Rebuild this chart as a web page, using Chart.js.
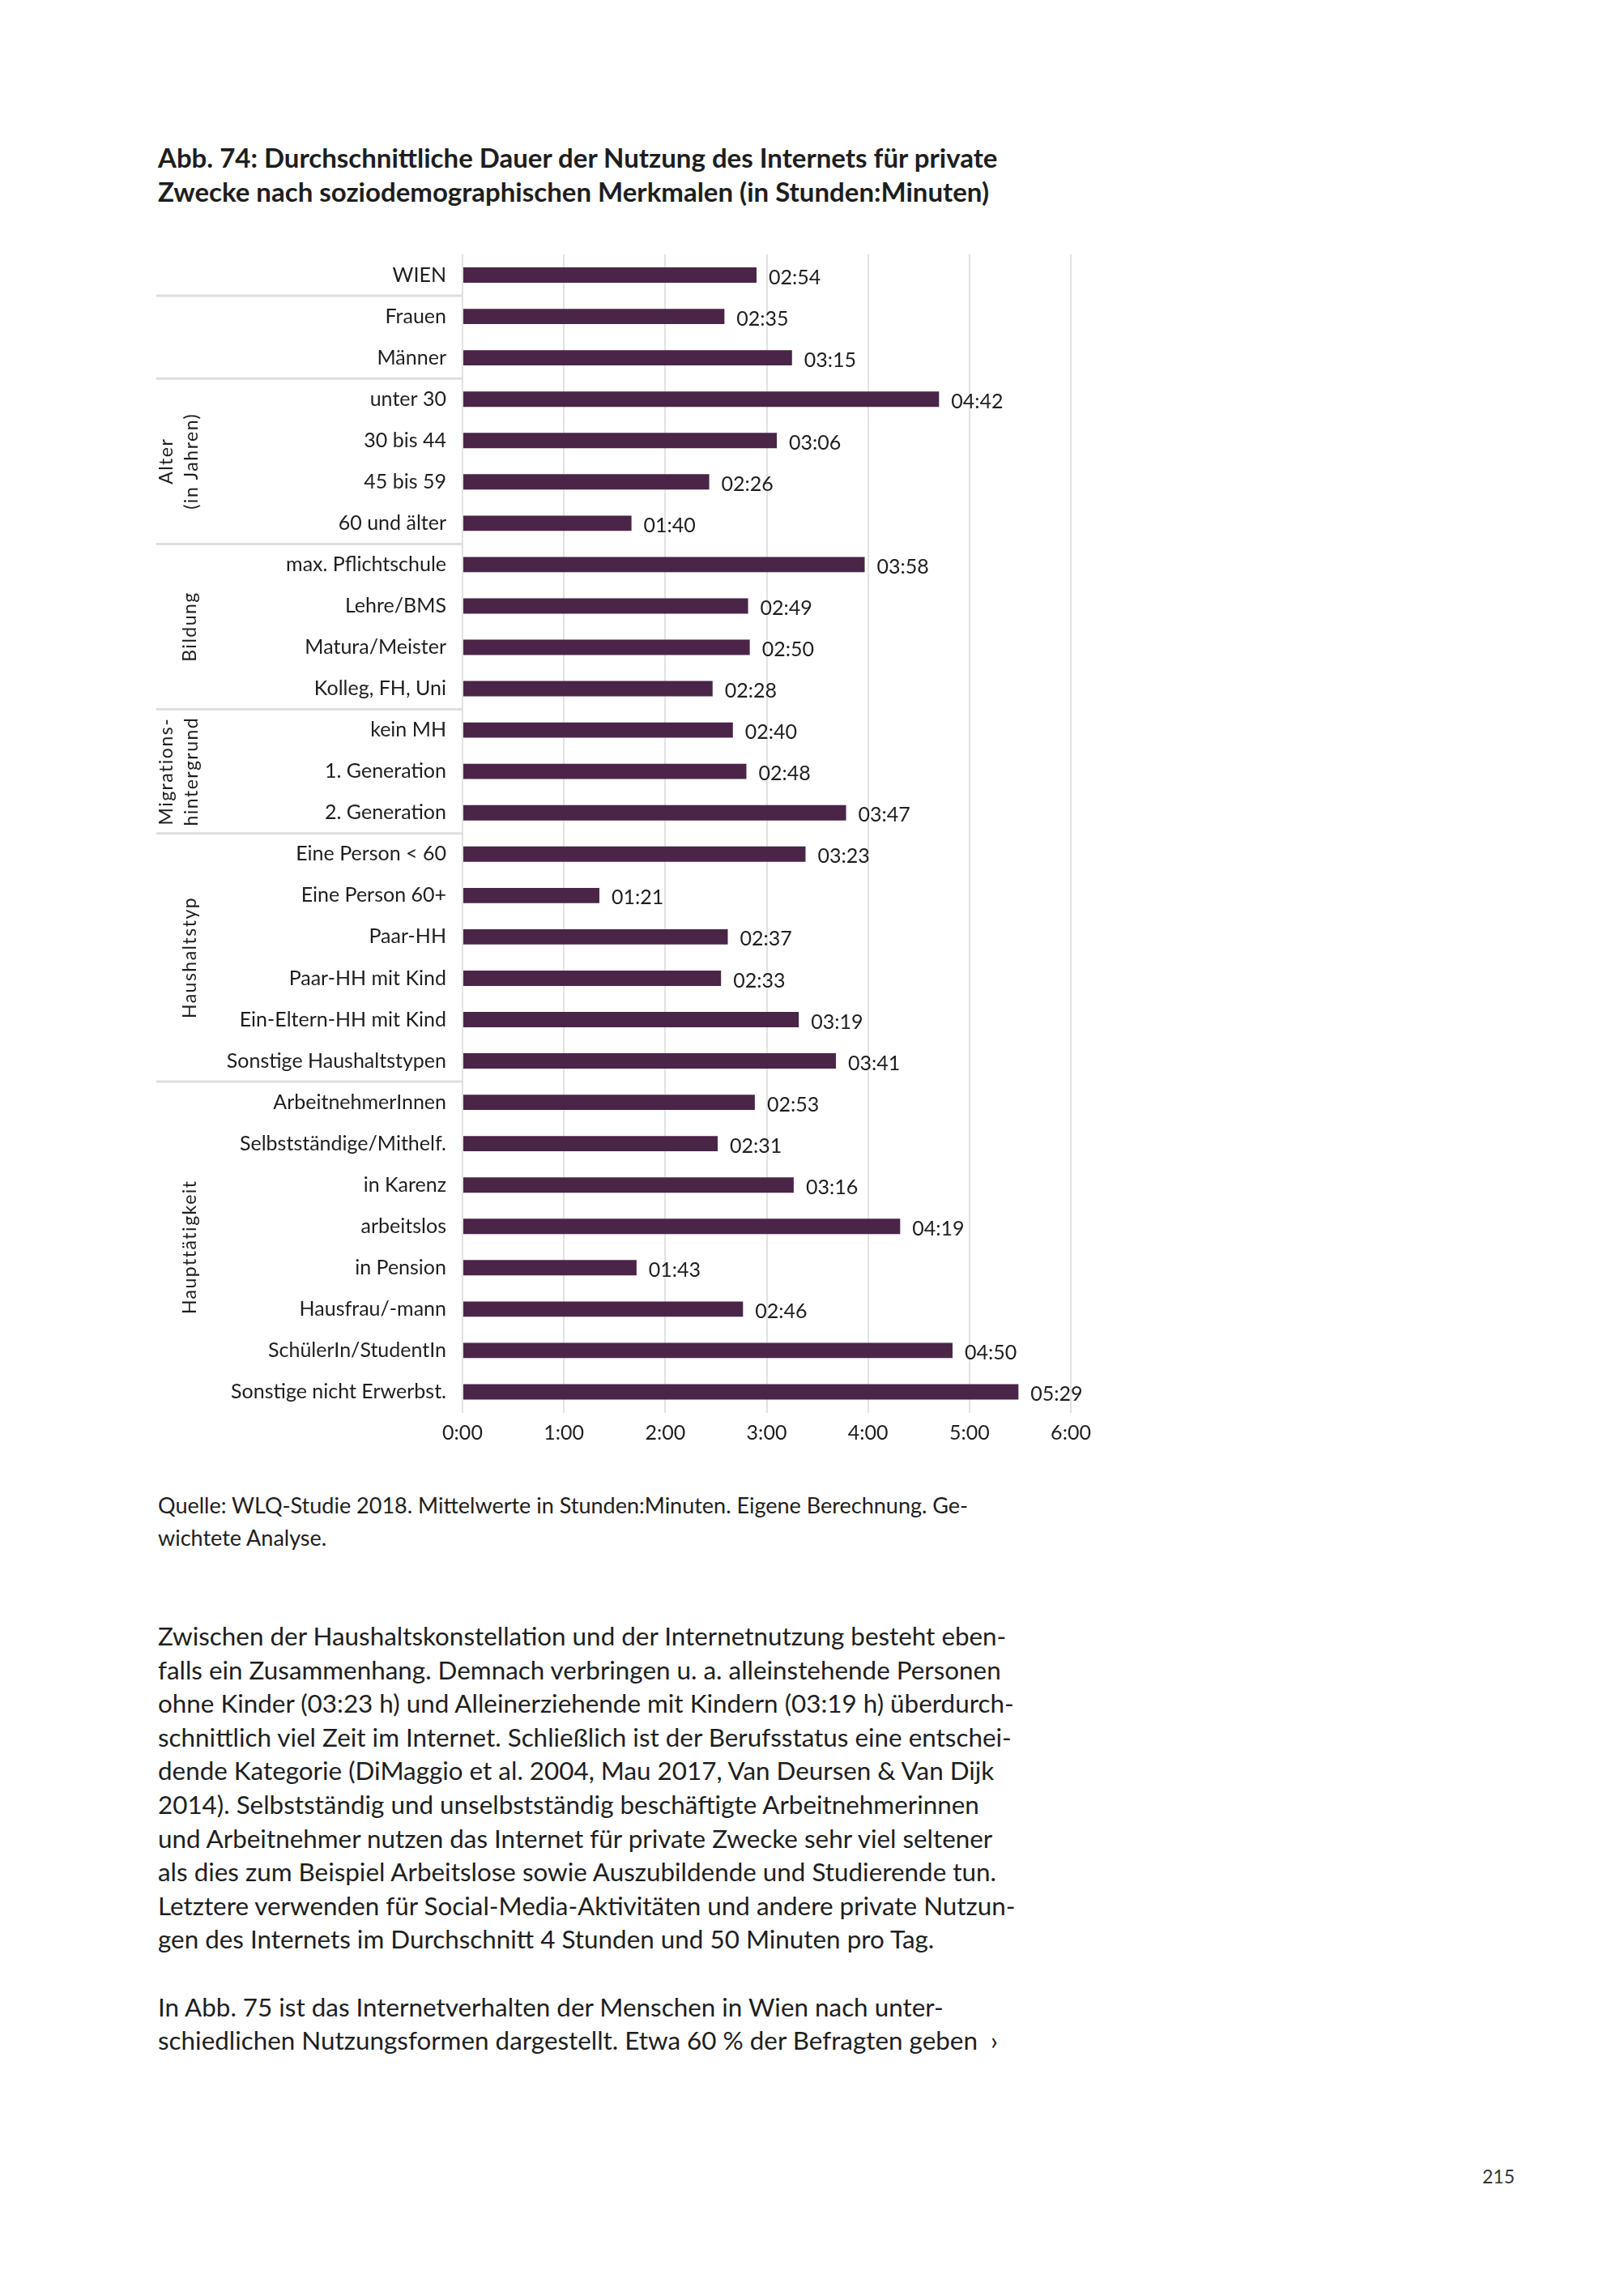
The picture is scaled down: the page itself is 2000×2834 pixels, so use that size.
<!DOCTYPE html>
<html lang="de">
<head>
<meta charset="utf-8">
<script src="https://cdn.jsdelivr.net/npm/chart.js@4.4.1/dist/chart.umd.min.js"></script>
<style>
  html, body { margin: 0; padding: 0; background: #fff; }
  body { width: 2000px; height: 2834px; position: relative; font-family: Lato, "Open Sans", sans-serif; color: #1e1e1e; }
  .title { position: absolute; left: 195px; top: 173px; font-size: 33px; font-weight: 700; line-height: 42px; white-space: nowrap; }
  .source { position: absolute; left: 195px; top: 1838px; font-size: 27px; line-height: 40px; white-space: nowrap; }
  .body { position: absolute; left: 195px; top: 1999px; font-size: 31.4px; line-height: 41.6px; white-space: nowrap; }
  .page { position: absolute; left: 1830px; top: 2672px; font-size: 23px; color: #333; }
  #chartBox { position: absolute; left: 180px; top: 279px; width: 1220px; height: 1531px; }
</style>
</head>
<body>
<div class="title">Abb. 74: Durchschnittliche Dauer der Nutzung des Internets für private<br>Zwecke nach soziodemographischen Merkmalen (in Stunden:Minuten)</div>
<div id="chartBox"><canvas id="myChart"></canvas></div>
<div class="source">Quelle: WLQ-Studie 2018. Mittelwerte in Stunden:Minuten. Eigene Berechnung. Ge-<br>wichtete Analyse.</div>
<div class="body">
Zwischen der Haushaltskonstellation und der Internetnutzung besteht eben-<br>
falls ein Zusammenhang. Demnach verbringen u. a. alleinstehende Personen<br>
ohne Kinder (03:23 h) und Alleinerziehende mit Kindern (03:19 h) überdurch-<br>
schnittlich viel Zeit im Internet. Schließlich ist der Berufsstatus eine entschei-<br>
dende Kategorie (DiMaggio et al. 2004, Mau 2017, Van Deursen &amp; Van Dijk<br>
2014). Selbstständig und unselbstständig beschäftigte Arbeitnehmerinnen<br>
und Arbeitnehmer nutzen das Internet für private Zwecke sehr viel seltener<br>
als dies zum Beispiel Arbeitslose sowie Auszubildende und Studierende tun.<br>
Letztere verwenden für Social-Media-Aktivitäten und andere private Nutzun-<br>
gen des Internets im Durchschnitt 4 Stunden und 50 Minuten pro Tag.<br>
<br>
In Abb. 75 ist das Internetverhalten der Menschen in Wien nach unter-<br>
schiedlichen Nutzungsformen dargestellt. Etwa 60 % der Befragten geben&nbsp;&nbsp;›
</div>
<div class="page">215</div>

<script>
// data
const categories = ['WIEN', 'Frauen', 'Männer', 'unter 30', '30 bis 44', '45 bis 59', '60 und älter',
  'max. Pflichtschule', 'Lehre/BMS', 'Matura/Meister', 'Kolleg, FH, Uni',
  'kein MH', '1. Generation', '2. Generation',
  'Eine Person < 60', 'Eine Person 60+', 'Paar-HH', 'Paar-HH mit Kind', 'Ein-Eltern-HH mit Kind', 'Sonstige Haushaltstypen',
  'ArbeitnehmerInnen', 'Selbstständige/Mithelf.', 'in Karenz', 'arbeitslos', 'in Pension', 'Hausfrau/-mann', 'SchülerIn/StudentIn', 'Sonstige nicht Erwerbst.'];

// minutes per day
const minutes = [174, 155, 195, 282, 186, 146, 100,
  238, 169, 170, 148,
  160, 168, 227,
  203, 81, 157, 153, 199, 221,
  173, 151, 196, 259, 103, 166, 290, 329];

const xTicks = ['0:00', '1:00', '2:00', '3:00', '4:00', '5:00', '6:00'];

// groups: label lines, first and last category index
const groupNames = [['Alter', '(in Jahren)'], ['Bildung'], ['Migrations-', 'hintergrund'], ['Haushaltstyp'], ['Haupttätigkeit']];
const groupFirst = [3, 7, 11, 14, 20];
const groupLast = [6, 10, 13, 19, 27];
const separatorsAfter = [0, 2, 6, 10, 13, 19];

function fmt(m) {
  const h = Math.floor(m / 60), mm = m % 60;
  return String(h).padStart(2, '0') + ':' + String(mm).padStart(2, '0');
}

// draws value labels, separator lines and rotated group titles
const decorations = {
  id: 'decorations',
  afterDatasetsDraw(chart) {
    const ctx = chart.ctx;
    const yScale = chart.scales.y;
    const area = chart.chartArea;
    ctx.save();

    // value labels
    ctx.font = '25px Lato';
    ctx.fillStyle = '#1e1e1e';
    ctx.textBaseline = 'middle';
    ctx.textAlign = 'left';
    chart.getDatasetMeta(0).data.forEach((bar, i) => {
      ctx.fillText(fmt(minutes[i]), bar.x + 15, bar.y + 3);
    });

    // group separators
    ctx.strokeStyle = '#dedede';
    ctx.lineWidth = 3;
    separatorsAfter.forEach(i => {
      const y = (yScale.getPixelForValue(i) + yScale.getPixelForValue(i + 1)) / 2;
      ctx.beginPath();
      ctx.moveTo(13, y);
      ctx.lineTo(area.left, y);
      ctx.stroke();
    });

    // group titles
    ctx.font = '23px Lato';
    ctx.letterSpacing = '1.5px';
    ctx.textAlign = 'center';
    groupNames.forEach((lines, g) => {
      const yc = (yScale.getPixelForValue(groupFirst[g]) + yScale.getPixelForValue(groupLast[g])) / 2;
      lines.forEach((txt, k) => {
        const x = lines.length === 1 ? 55 : 26 + k * 31;
        ctx.save();
        ctx.translate(x, yc);
        ctx.rotate(-Math.PI / 2);
        ctx.fillText(txt, 0, 0);
        ctx.restore();
      });
    });
    ctx.restore();
  }
};

const data = {
  labels: categories,
  datasets: [{
    label: 'Dauer',
    data: minutes,
    backgroundColor: '#4a2548',
    categoryPercentage: 1,
    barPercentage: 0.37
  }]
};

const config = {
  type: 'bar',
  data,
  options: {
    indexAxis: 'y',
    responsive: true,
    maintainAspectRatio: false,
    animation: false,
    layout: { padding: { top: 14, right: 78, left: 0, bottom: 0 } },
    plugins: { legend: { display: false }, tooltip: { enabled: false } },
    scales: {
      x: {
        min: 0,
        max: 360,
        ticks: {
          stepSize: 60,
          padding: 10,
          color: '#1e1e1e',
          font: { family: 'Lato', size: 25 },
          callback: (v) => xTicks[v / 60]
        },
        grid: { color: '#e2e2e2', lineWidth: 2, drawTicks: false },
        border: { display: false },
        afterFit: (scale) => { scale.height = 66.5; }
      },
      y: {
        ticks: {
          autoSkip: false,
          padding: 20,
          color: '#1e1e1e',
          font: { family: 'Lato', size: 25 }
        },
        grid: { display: false, drawTicks: false },
        border: { display: false },
        afterFit: (scale) => { scale.width = 391; }
      }
    }
  },
  plugins: [decorations]
};

const myChart = new Chart(document.getElementById('myChart'), config);
</script>
</body>
</html>
